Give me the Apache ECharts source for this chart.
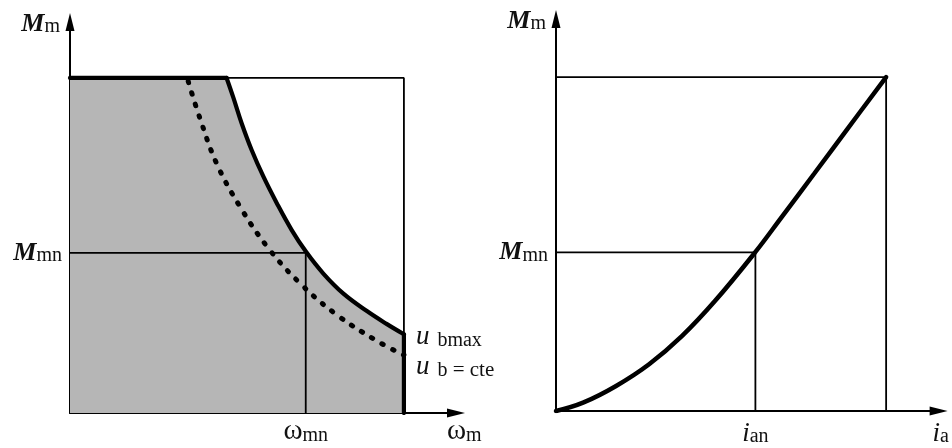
<!DOCTYPE html>
<html><head><meta charset="utf-8">
<script src="https://cdn.jsdelivr.net/npm/echarts@6/dist/echarts.min.js"></script>
<style>html,body{margin:0;padding:0;background:#fff}#c{width:952px;height:448px}</style>
</head><body><div id="c"></div>
<script>
// ---------- data (normalised units: 1 = maximum value) ----------
// Left panel: torque M_m vs speed ω_m
const leftLimitFlat  = [[0, 1], [0.469, 1]];
const leftLimitCurve = [[0.469, 1], [0.489, 0.942], [0.514, 0.865], [0.544, 0.785], [0.579, 0.706],
                        [0.619, 0.627], [0.664, 0.546], [0.707, 0.481], [0.758, 0.417], [0.818, 0.357],
                        [0.888, 0.305], [0.948, 0.266], [1, 0.235]];
const leftLimitDrop  = [[1, 0.235], [1, 0]];
const leftUbCurve    = [[0.354, 0.99], [0.389, 0.880], [0.439, 0.745], [0.509, 0.616], [0.594, 0.492],
                        [0.689, 0.387], [0.799, 0.293], [0.923, 0.213], [1, 0.173]];
const leftRatedTorque = 0.478;
const leftRatedSpeed  = 0.706;
const leftBoxTop      = [[0.469, 1], [1, 1], [1, 0.235]];

// Right panel: torque M_m vs current i_a
const rightCurve = [[0, 0], [0.082, 0.025], [0.182, 0.075], [0.282, 0.14], [0.382, 0.225], [0.482, 0.33],
                    [0.603, 0.475], [0.683, 0.580], [0.783, 0.712], [0.883, 0.845], [1, 1]];
const rightRatedTorque  = 0.475;
const rightRatedCurrent = 0.604;
const rightBox = [[0, 1], [1, 1], [1, 0]];

// ---------- text ----------
const F = 'Liberation Serif';
const C = '#111';
const rich = {
  it:  {fontFamily: F, fontStyle: 'italic', fontWeight: 'bold', fontSize: 26, color: C, verticalAlign: 'bottom'},
  iu:  {fontFamily: F, fontStyle: 'italic', fontSize: 27, color: C, verticalAlign: 'bottom'},
  up:  {fontFamily: F, fontSize: 29, color: C, verticalAlign: 'bottom'},
  sub: {fontFamily: F, fontSize: 20, color: C, verticalAlign: 'bottom'},
  subg:{fontFamily: F, fontSize: 20, color: C, verticalAlign: 'bottom', padding: [0, 0, 0, 8]},
  eq:  {fontFamily: F, fontSize: 21, color: C, verticalAlign: 'bottom'}
};
const lblMm   = '{it|M}{sub|m}';
const lblMmn  = '{it|M}{sub|mn}';
const lblWmn  = '{up|ω}{sub|mn}';
const lblWm   = '{up|ω}{sub|m}';
const lblIan  = '{iu|i}{sub|an}';
const lblIa   = '{iu|i}{sub|a}';
const lblUmax = '{iu|u}{subg|bmax}';
const lblUcte = '{iu|u}{subg|b}{eq| = cte}';

const axisLine = {show: true, onZero: false, symbol: ['none', 'triangle'], symbolSize: [9, 18],
                  lineStyle: {color: '#000', width: 2}};

function xAx(grid, max, val, label, name, gap, margin) {
  return {gridIndex: grid, type: 'value', min: 0, max: max, axisLine: axisLine,
    axisTick: {show: false}, splitLine: {show: false},
    axisLabel: {customValues: [val], formatter: () => label, rich: rich, margin: margin},
    name: name, nameLocation: 'end', nameGap: gap,
    nameTextStyle: {align: 'left', verticalAlign: 'top', padding: [margin, 0, 0, 0], rich: rich}};
}
function yAx(grid, max, val, label, name) {
  return {gridIndex: grid, type: 'value', min: 0, max: max, axisLine: axisLine,
    axisTick: {show: false}, splitLine: {show: false},
    axisLabel: {customValues: [val], formatter: () => label, rich: rich, margin: 8},
    name: name, nameLocation: 'end', nameGap: -2,
    nameTextStyle: {align: 'right', verticalAlign: 'middle', padding: [0, 10, 0, 0], rich: rich}};
}

const thin  = {color: '#000', width: 1.8};
const thick = {color: '#000', width: 4.2, cap: 'round', join: 'round'};
function line(x, y, data, style, extra) {
  return Object.assign({type: 'line', xAxisIndex: x, yAxisIndex: y, data: data, symbol: 'none',
    lineStyle: style, silent: true, animation: false}, extra || {});
}

const areaData = leftLimitFlat.concat(leftLimitCurve.slice(1), leftLimitDrop.slice(1));

const option = {
  backgroundColor: '#fff',
  animation: false,
  grid: [
    {left: 70, top: 22, width: 386, height: 391},
    {left: 556, top: 19, width: 386, height: 392}
  ],
  xAxis: [
    xAx(0, 1.156, leftRatedSpeed, lblWmn, lblWm, -9, 4),
    xAx(1, 1.159, rightRatedCurrent, lblIan, lblIa, -6, 9)
  ],
  yAxis: [
    yAx(0, 1.167, leftRatedTorque, lblMmn, lblMm),
    yAx(1, 1.174, rightRatedTorque, lblMmn, lblMm)
  ],
  series: [
    line(0, 0, areaData, {width: 0}, {areaStyle: {color: '#b6b6b6', opacity: 1}, z: 1}),
    line(0, 0, [[0, leftRatedTorque], [leftRatedSpeed, leftRatedTorque], [leftRatedSpeed, 0]], thin, {z: 2}),
    line(0, 0, leftBoxTop, thin, {z: 2}),
    line(0, 0, leftUbCurve, {color: '#000', width: 5, type: [1.5, 10.5], cap: 'round'},
      {smooth: 0.4, z: 3, endLabel: {show: true, formatter: lblUcte, rich: rich, offset: [4, 12]}}),
    line(0, 0, leftLimitFlat, thick, {z: 4}),
    line(0, 0, leftLimitCurve, thick,
      {smooth: 0.4, z: 4, endLabel: {show: true, formatter: lblUmax, rich: rich, offset: [4, 3]}}),
    line(0, 0, leftLimitDrop, thick, {z: 4}),

    line(1, 1, rightBox, thin, {z: 2}),
    line(1, 1, [[0, rightRatedTorque], [rightRatedCurrent, rightRatedTorque], [rightRatedCurrent, 0]], thin, {z: 2}),
    line(1, 1, rightCurve, {color: '#000', width: 4.5, cap: 'round'}, {smooth: 0.4, z: 4})
  ]
};
echarts.init(document.getElementById('c'), null, {renderer: 'canvas'}).setOption(option);
</script></body></html>
